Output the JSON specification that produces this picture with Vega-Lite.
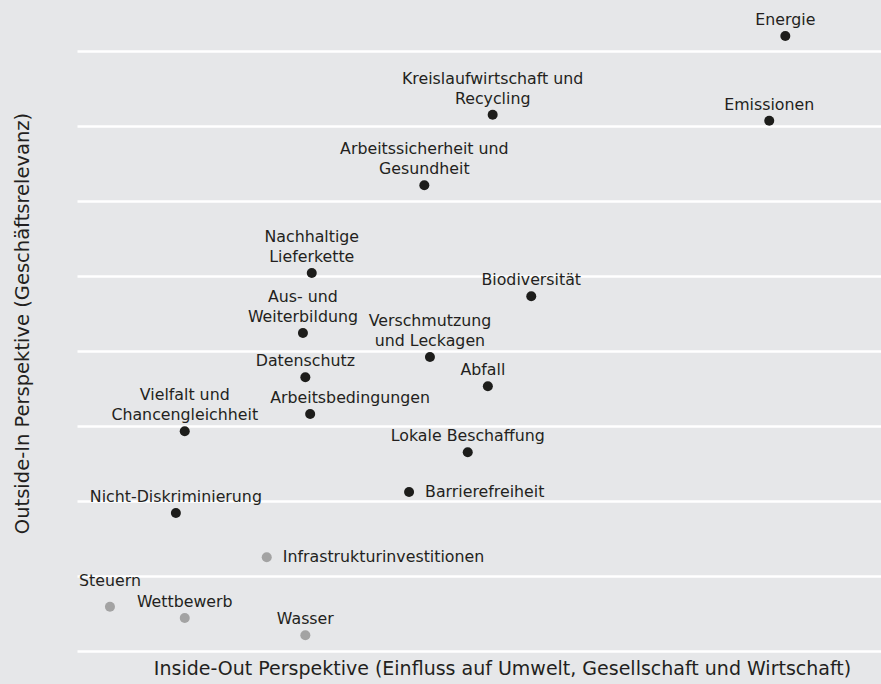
{
  "$schema": "https://vega.github.io/schema/vega-lite/v6.json",
  "width": 804,
  "height": 651,
  "autosize": {"type": "none"},
  "padding": {"left": 77, "top": 0, "right": 0, "bottom": 33},
  "background": "#e6e7e9",
  "config": {
    "view": {"stroke": null},
    "font": "DejaVu Sans",
    "text": {"font": "DejaVu Sans", "fontSize": 15.8, "color": "#231f20", "lineBreak": "\n", "lineHeight": 20}
  },
  "data": {
    "values": [
      {"thema": "Energie", "inside_out": 8.81, "outside_in": 8.2, "gruppe": "wesentlich"},
      {"thema": "Emissionen", "inside_out": 8.61, "outside_in": 7.07, "gruppe": "wesentlich"},
      {"thema": "Kreislaufwirtschaft und\nRecycling", "inside_out": 5.17, "outside_in": 7.15, "gruppe": "wesentlich"},
      {"thema": "Arbeitssicherheit und\nGesundheit", "inside_out": 4.32, "outside_in": 6.21, "gruppe": "wesentlich"},
      {"thema": "Nachhaltige\nLieferkette", "inside_out": 2.92, "outside_in": 5.04, "gruppe": "wesentlich"},
      {"thema": "Biodiversität", "inside_out": 5.65, "outside_in": 4.73, "gruppe": "wesentlich"},
      {"thema": "Aus- und\nWeiterbildung", "inside_out": 2.81, "outside_in": 4.24, "gruppe": "wesentlich"},
      {"thema": "Verschmutzung\nund Leckagen", "inside_out": 4.39, "outside_in": 3.92, "gruppe": "wesentlich"},
      {"thema": "Datenschutz", "inside_out": 2.84, "outside_in": 3.65, "gruppe": "wesentlich"},
      {"thema": "Abfall", "inside_out": 5.11, "outside_in": 3.53, "gruppe": "wesentlich"},
      {"thema": "Arbeitsbedingungen", "inside_out": 2.9, "outside_in": 3.16, "gruppe": "wesentlich"},
      {"thema": "Vielfalt und\nChancengleichheit", "inside_out": 1.34, "outside_in": 2.93, "gruppe": "wesentlich"},
      {"thema": "Lokale Beschaffung", "inside_out": 4.86, "outside_in": 2.65, "gruppe": "wesentlich"},
      {"thema": "Barrierefreiheit", "inside_out": 4.13, "outside_in": 2.12, "gruppe": "wesentlich"},
      {"thema": "Nicht-Diskriminierung", "inside_out": 1.23, "outside_in": 1.84, "gruppe": "wesentlich"},
      {"thema": "Infrastrukturinvestitionen", "inside_out": 2.36, "outside_in": 1.25, "gruppe": "nicht wesentlich"},
      {"thema": "Steuern", "inside_out": 0.41, "outside_in": 0.59, "gruppe": "nicht wesentlich"},
      {"thema": "Wettbewerb", "inside_out": 1.34, "outside_in": 0.44, "gruppe": "nicht wesentlich"},
      {"thema": "Wasser", "inside_out": 2.84, "outside_in": 0.21, "gruppe": "nicht wesentlich"}
    ]
  },
  "encoding": {
    "x": {
      "field": "inside_out", "type": "quantitative",
      "scale": {"domain": [0, 10], "nice": false, "zero": false},
      "axis": {
        "title": "Inside-Out Perspektive (Einfluss auf Umwelt, Gesellschaft und Wirtschaft)",
        "grid": false, "domain": false, "ticks": false, "labels": false,
        "titleFont": "DejaVu Sans", "titleFontSize": 19, "titleFontWeight": "normal", "titleColor": "#231f20",
        "titleX": 425, "titleY": 17, "titleBaseline": "middle", "titleAlign": "center"
      }
    },
    "y": {
      "field": "outside_in", "type": "quantitative",
      "scale": {"domain": [0, 8.68], "nice": false, "zero": false},
      "axis": {
        "title": "Outside-In Perspektive (Geschäftsrelevanz)",
        "values": [0, 1, 2, 3, 4, 5, 6, 7, 8],
        "grid": true, "gridColor": "#ffffff", "gridWidth": 2.5, "gridOpacity": 1,
        "domain": false, "ticks": false, "labels": false,
        "titleFont": "DejaVu Sans", "titleFontSize": 19.5, "titleFontWeight": "normal", "titleColor": "#231f20",
        "titleX": -55, "titleY": 323, "titleAngle": -90, "titleBaseline": "middle", "titleAlign": "center"
      }
    }
  },
  "layer": [
    {
      "mark": {"type": "circle", "size": 100, "opacity": 1},
      "encoding": {
        "color": {
          "field": "gruppe", "type": "nominal",
          "scale": {"domain": ["wesentlich", "nicht wesentlich"], "range": ["#1d1d1b", "#a3a3a3"]},
          "legend": null
        }
      }
    },
    {
      "transform": [{"filter": {"field": "thema", "oneOf": ["Energie", "Emissionen", "Biodiversität", "Datenschutz", "Lokale Beschaffung", "Nicht-Diskriminierung", "Wettbewerb", "Wasser"]}}],
      "mark": {"type": "text", "align": "center", "baseline": "bottom", "dy": -8},
      "encoding": {"text": {"field": "thema"}}
    },
    {
      "transform": [{"filter": {"field": "thema", "equal": "Abfall"}}],
      "mark": {"type": "text", "align": "center", "baseline": "bottom", "dy": -8, "dx": -5},
      "encoding": {"text": {"field": "thema"}}
    },
    {
      "transform": [{"filter": {"field": "thema", "equal": "Arbeitsbedingungen"}}],
      "mark": {"type": "text", "align": "center", "baseline": "bottom", "dy": -8, "dx": 40},
      "encoding": {"text": {"field": "thema"}}
    },
    {
      "transform": [{"filter": {"field": "thema", "equal": "Steuern"}}],
      "mark": {"type": "text", "align": "center", "baseline": "bottom", "dy": -18},
      "encoding": {"text": {"field": "thema"}}
    },
    {
      "transform": [{"filter": {"field": "thema", "oneOf": ["Kreislaufwirtschaft und\nRecycling", "Arbeitssicherheit und\nGesundheit", "Nachhaltige\nLieferkette", "Aus- und\nWeiterbildung", "Verschmutzung\nund Leckagen", "Vielfalt und\nChancengleichheit"]}}],
      "mark": {"type": "text", "align": "center", "baseline": "bottom", "dy": -28},
      "encoding": {"text": {"field": "thema"}}
    },
    {
      "transform": [{"filter": {"field": "thema", "oneOf": ["Barrierefreiheit", "Infrastrukturinvestitionen"]}}],
      "mark": {"type": "text", "align": "left", "baseline": "middle", "dx": 16},
      "encoding": {"text": {"field": "thema"}}
    }
  ]
}
